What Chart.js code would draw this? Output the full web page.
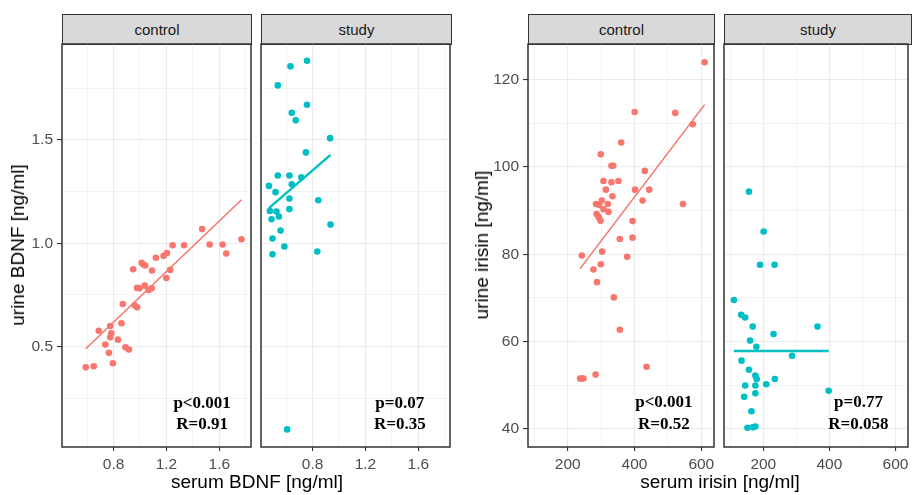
<!DOCTYPE html>
<html>
<head>
<meta charset="utf-8">
<script src="https://cdn.jsdelivr.net/npm/chart.js@4.4.1/dist/chart.umd.min.js"></script>
<style>
    body { margin: 0; background: #fff; width: 912px; height: 495px; position: relative; overflow: hidden;
           font-family: "Liberation Sans", Arial, sans-serif; }
    canvas { position: absolute; top: 40px; }
    .strip { position: absolute; top: 14px; height: 31px; background: #d9d9d9; border: 1px solid #333;
             box-sizing: border-box; text-align: center; line-height: 29px; font-size: 15px; color: #1a1a1a; }
    .xtitle { position: absolute; top: 471px; font-size: 19px; color: #000; text-align: center; }
    .ytitle { position: absolute; font-size: 19px; color: #000; white-space: nowrap;
              transform: translate(-50%, -50%) rotate(-90deg); }
</style>
</head>
<body>
<div class="strip" style="left:62px;width:190px">control</div>
<div class="strip" style="left:261px;width:191px">study</div>
<div class="strip" style="left:528px;width:187px">control</div>
<div class="strip" style="left:724px;width:188px">study</div>

<canvas id="bdnfControl" width="255" height="455" style="left:0px"></canvas>
<canvas id="bdnfStudy" width="199" height="455" style="left:255px"></canvas>
<canvas id="irisinControl" width="248" height="455" style="left:470px"></canvas>
<canvas id="irisinStudy" width="194" height="455" style="left:718px"></canvas>

<div class="xtitle" style="left:62px;width:390px">serum BDNF [ng/ml]</div>
<div class="xtitle" style="left:528px;width:384px">serum irisin [ng/ml]</div>
<div class="ytitle" style="left:18px;top:245px">urine BDNF [ng/ml]</div>
<div class="ytitle" style="left:482px;top:245px">urine irisin [ng/ml]</div>

<script>
// BDNF, control group
const bdnfCtrlSerum = [0.59, 0.65, 0.688, 0.738, 0.765, 0.795, 0.775, 0.783, 0.775, 0.833, 0.86, 0.87, 0.89,
    0.916, 0.948, 0.96, 0.978, 0.978, 0.996, 1.013, 1.026, 1.04, 1.036, 1.066, 1.089, 1.091, 1.12, 1.179,
    1.204, 1.199, 1.229, 1.247, 1.334, 1.47, 1.527, 1.625, 1.653, 1.768];
const bdnfCtrlUrine = [0.40, 0.405, 0.577, 0.51, 0.47, 0.42, 0.545, 0.565, 0.60, 0.534, 0.613, 0.706, 0.497,
    0.486, 0.874, 0.70, 0.69, 0.784, 0.782, 0.905, 0.897, 0.892, 0.795, 0.774, 0.782, 0.868, 0.93, 0.939,
    0.953, 0.832, 0.871, 0.99, 0.99, 1.069, 0.994, 0.994, 0.95, 1.019];
const bdnfCtrlFitX = [0.59, 1.768];
const bdnfCtrlFitY = [0.49, 1.21];

// BDNF, study group
const bdnfStudySerum = [0.758, 0.633, 0.537, 0.758, 0.643, 0.673, 0.933, 0.75, 0.537, 0.625, 0.715, 0.643,
    0.47, 0.52, 0.625, 0.843, 0.477, 0.527, 0.625, 0.545, 0.49, 0.936, 0.558, 0.497, 0.587, 0.497, 0.836, 0.608];
const bdnfStudyUrine = [1.882, 1.855, 1.763, 1.669, 1.631, 1.594, 1.508, 1.439, 1.327, 1.327, 1.319, 1.285,
    1.277, 1.247, 1.216, 1.208, 1.156, 1.153, 1.165, 1.129, 1.116, 1.09, 1.061, 1.023, 0.984, 0.947, 0.96, 0.10];
const bdnfStudyFitX = [0.47, 0.936];
const bdnfStudyFitY = [1.17, 1.427];

// irisin, control group
const irisinCtrlSerum = [610, 400.5, 522, 574.5, 360, 299, 331, 336, 431, 307, 331, 352, 314, 401.5, 444, 334,
    424, 284.5, 302, 294, 320, 307, 286.5, 322, 293, 298, 545, 394, 356, 394, 242, 303, 378, 299, 277, 287.5,
    338, 356, 436, 237, 242, 247, 283.5];
const irisinCtrlUrine = [124.0, 112.6, 112.4, 109.8, 105.6, 102.9, 100.3, 100.3, 99.1, 96.8, 96.5, 96.8, 94.8,
    94.8, 94.8, 93.3, 92.3, 91.5, 92.3, 91.3, 91.5, 90.3, 89.2, 89.7, 88.5, 87.7, 91.5, 87.6, 83.5, 83.8, 79.7,
    80.6, 79.4, 77.7, 76.5, 73.6, 70.1, 62.7, 54.2, 51.5, 51.5, 51.5, 52.4];
const irisinCtrlFitX = [237, 610];
const irisinCtrlFitY = [76.7, 114.3];

// irisin, study group
const irisinStudySerum = [156.5, 201, 190, 234, 111, 133, 145, 168, 364, 231, 160, 179, 287, 134, 156.5, 176,
    180, 235, 145, 176, 209, 398, 142, 176, 164, 152, 168, 176];
const irisinStudyUrine = [94.35, 85.2, 77.6, 77.6, 69.5, 66.1, 65.5, 63.4, 63.4, 61.7, 60.2, 58.8, 56.7, 55.6,
    53.5, 52.2, 51.4, 51.4, 49.9, 49.9, 50.2, 48.7, 47.3, 48.1, 44.0, 40.2, 40.3, 40.5];
const irisinStudyFitX = [111, 398];
const irisinStudyFitY = [57.8, 57.8];

// axis breaks (major + minor grid)
const bdnfXTicks = [0.6, 0.8, 1.0, 1.2, 1.4, 1.6, 1.8];
const bdnfXMajor = [0.8, 1.2, 1.6];
const bdnfYTicks = [0.25, 0.5, 0.75, 1.0, 1.25, 1.5, 1.75];
const bdnfYMajor = [0.5, 1.0, 1.5];
const irisinXTicks = [100, 200, 300, 400, 500, 600];
const irisinXMajor = [200, 400, 600];
const irisinYTicks = [40, 50, 60, 70, 80, 90, 100, 110, 120];
const irisinYMajor = [40, 60, 80, 100, 120];

const RED = '#F8766D';
const TEAL = '#00BFC4';
const tickFont = { family: 'Liberation Sans', size: 15.5 };

// draws the panel frame and the p / R labels
const panelFrame = {
    id: 'panelFrame',
    afterDatasetsDraw(chart, args, opts) {
        const { ctx, chartArea: a } = chart;
        const xs = chart.scales.x, ys = chart.scales.y;
        ctx.save();
        ctx.font = 'bold 17px "Liberation Serif"';
        ctx.fillStyle = '#000';
        ctx.textAlign = 'center';
        ctx.textBaseline = 'middle';
        opts.labels.forEach(function (l) {
            ctx.fillText(l.text, xs.getPixelForValue(l.x), ys.getPixelForValue(l.y));
        });
        ctx.strokeStyle = '#333';
        ctx.lineWidth = 1.5;
        ctx.strokeRect(a.left, a.top, a.right - a.left, a.bottom - a.top);
        ctx.restore();
    },
};

function toPoints(xs, ys) {
    return xs.map((x, i) => ({ x: x, y: ys[i] }));
}

function makePanel(id, cfg) {
    const isMajor = (list) => (c) => list.indexOf(c.tick.value) >= 0;
    new Chart(document.getElementById(id), {
        type: 'scatter',
        data: {
            datasets: [
                {
                    data: toPoints(cfg.px, cfg.py),
                    backgroundColor: cfg.color,
                    borderWidth: 0,
                    pointRadius: 3.3,
                },
                {
                    type: 'line',
                    data: toPoints(cfg.fx, cfg.fy),
                    borderColor: cfg.color,
                    borderWidth: cfg.lineWidth,
                    pointRadius: 0,
                    fill: false,
                },
            ],
        },
        options: {
            responsive: false,
            animation: false,
            layout: { padding: { top: 4, right: cfg.padRight, left: 0, bottom: 0 } },
            plugins: {
                legend: { display: false },
                tooltip: { enabled: false },
                panelFrame: { labels: cfg.labels },
            },
            scales: {
                x: {
                    type: 'linear',
                    min: cfg.xMin,
                    max: cfg.xMax,
                    afterBuildTicks: (s) => { s.ticks = cfg.xTicks.map((v) => ({ value: v })); },
                    afterFit: (s) => { s.height = 48; s.paddingLeft = 0; s.paddingRight = 0; },
                    border: { display: false },
                    grid: {
                        color: '#ebebeb',
                        lineWidth: (c) => (isMajor(cfg.xMajor)(c) ? 1.1 : 0.6),
                        tickLength: 4,
                        tickColor: (c) => (isMajor(cfg.xMajor)(c) ? '#333' : 'rgba(0,0,0,0)'),
                    },
                    ticks: {
                        font: tickFont,
                        color: '#4d4d4d',
                        padding: 4,
                        maxRotation: 0,
                        callback: (v) => (cfg.xMajor.indexOf(v) >= 0 ? String(v) : ''),
                    },
                },
                y: {
                    type: 'linear',
                    min: cfg.yMin,
                    max: cfg.yMax,
                    afterBuildTicks: (s) => { s.ticks = cfg.yTicks.map((v) => ({ value: v })); },
                    afterFit: (s) => { s.width = cfg.yWidth; s.paddingTop = 0; s.paddingBottom = 0; },
                    border: { display: false },
                    grid: {
                        color: '#ebebeb',
                        lineWidth: (c) => (isMajor(cfg.yMajor)(c) ? 1.1 : 0.6),
                        drawTicks: cfg.showY,
                        tickLength: 5,
                        tickColor: (c) => (isMajor(cfg.yMajor)(c) ? '#333' : 'rgba(0,0,0,0)'),
                    },
                    ticks: {
                        display: cfg.showY,
                        font: tickFont,
                        color: '#4d4d4d',
                        padding: 4,
                        callback: (v) => (cfg.yMajor.indexOf(v) >= 0 ? cfg.fmtY(v) : ''),
                    },
                },
            },
        },
        plugins: [panelFrame],
    });
}

const bdnfBase = {
    xMin: 0.41, xMax: 1.84, yMin: 0.015, yMax: 1.963,
    xTicks: bdnfXTicks, xMajor: bdnfXMajor, yTicks: bdnfYTicks, yMajor: bdnfYMajor,
    fmtY: (v) => v.toFixed(1),
};
const irisinBase = {
    xMin: 81, xMax: 638, yMin: 35.8, yMax: 128.2,
    xTicks: irisinXTicks, xMajor: irisinXMajor, yTicks: irisinYTicks, yMajor: irisinYMajor,
    fmtY: (v) => String(v),
};

makePanel('bdnfControl', Object.assign({}, bdnfBase, {
    px: bdnfCtrlSerum, py: bdnfCtrlUrine, fx: bdnfCtrlFitX, fy: bdnfCtrlFitY,
    color: RED, lineWidth: 1.6, showY: true, yWidth: 62, padRight: 3,
    labels: [{ text: 'p<0.001', x: 1.47, y: 0.226 }, { text: 'R=0.91', x: 1.47, y: 0.121 }],
}));
makePanel('bdnfStudy', Object.assign({}, bdnfBase, {
    px: bdnfStudySerum, py: bdnfStudyUrine, fx: bdnfStudyFitX, fy: bdnfStudyFitY,
    color: TEAL, lineWidth: 2.4, showY: false, yWidth: 6, padRight: 2,
    labels: [{ text: 'p=0.07', x: 1.46, y: 0.226 }, { text: 'R=0.35', x: 1.46, y: 0.121 }],
}));
makePanel('irisinControl', Object.assign({}, irisinBase, {
    px: irisinCtrlSerum, py: irisinCtrlUrine, fx: irisinCtrlFitX, fy: irisinCtrlFitY,
    color: RED, lineWidth: 1.6, showY: true, yWidth: 58, padRight: 3,
    labels: [{ text: 'p<0.001', x: 488, y: 45.9 }, { text: 'R=0.52', x: 488, y: 40.9 }],
}));
makePanel('irisinStudy', Object.assign({}, irisinBase, {
    px: irisinStudySerum, py: irisinStudyUrine, fx: irisinStudyFitX, fy: irisinStudyFitY,
    color: TEAL, lineWidth: 2.4, showY: false, yWidth: 6, padRight: 1,
    labels: [{ text: 'p=0.77', x: 488, y: 45.9 }, { text: 'R=0.058', x: 488, y: 40.9 }],
}));
</script>
</body>
</html>
